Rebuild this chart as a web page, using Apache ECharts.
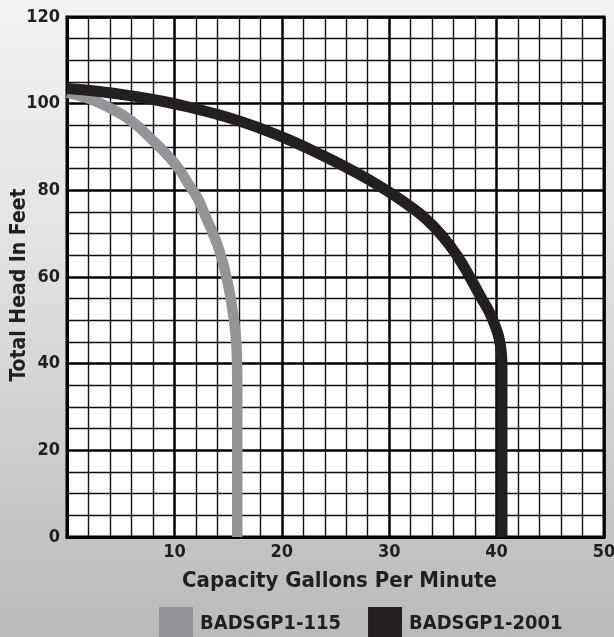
<!DOCTYPE html>
<html>
<head>
<meta charset="utf-8">
<script src="https://cdn.jsdelivr.net/npm/echarts@6/dist/echarts.min.js"></script>
<style>
html,body{margin:0;padding:0;}
#c{width:614px;height:637px;background:linear-gradient(180deg,#f3f3f3 0%,#e2e2e3 40%,#c9cacb 75%,#b9babc 100%);}
</style>
</head>
<body>
<div id="c"></div>
<script>
// Pump curves: capacity (GPM) vs total head (ft)
const seriesNames = ['BADSGP1-115', 'BADSGP1-2001'];
const gpm115  = [0, 2, 4, 6, 8, 9.2, 10.4, 11.3, 12.2, 12.9, 13.6, 14.2, 14.7, 15.1, 15.4, 15.65, 15.8, 15.85, 15.85, 15.85, 15.85, 15.85];
const head115 = [102.5, 101.2, 99, 96, 91.5, 88.5, 85, 81.5, 78, 74, 70, 66, 61.5, 57, 52.5, 48, 43, 37, 30, 20, 10, 0];
const gpm2001  = [0, 3, 6, 9, 12, 15, 18, 21, 24, 26, 28, 30, 32, 33.5, 35, 36.3, 37.5, 38.5, 39.3, 39.9, 40.3, 40.5, 40.5, 40.5, 40.5, 40.5];
const head2001 = [103.5, 102.8, 101.8, 100.5, 98.8, 96.8, 94.3, 91.3, 87.8, 85.3, 82.6, 79.6, 76.2, 73.2, 69.3, 65, 60, 55.5, 52, 48.5, 45, 40, 30, 20, 10, 0];
const xTicks = [0, 10, 20, 30, 40, 50];
const yTicks = [0, 20, 40, 60, 80, 100, 120];

const FONT = "'DejaVu Sans Condensed','DejaVu Sans',sans-serif";
const INK = '#231f20';
const zip = (a, b) => a.map((v, i) => [v, b[i]]);
const txt = (size) => ({fontFamily: FONT, fontWeight: 'bold', fontSize: size, color: INK});

const chart = echarts.init(document.getElementById('c'), null, {renderer: 'canvas'});
chart.setOption({
  backgroundColor: 'transparent',
  animation: false,
  grid: {left: 67, right: 10, top: 17, bottom: 100, outerBoundsMode: 'none', containLabel: false,
    show: true, backgroundColor: '#ffffff', borderColor: '#000', borderWidth: 3},
  xAxis: {
    type: 'value', min: xTicks[0], max: xTicks[xTicks.length - 1], interval: 10,
    name: 'Capacity Gallons Per Minute', nameLocation: 'middle', nameGap: 33, nameMoveOverlap: false,
    nameTextStyle: Object.assign(txt(22), {padding: [0, 0, 0, 8]}),
    axisLine: {show: true, lineStyle: {color: '#000', width: 3}},
    axisTick: {show: false},
    axisLabel: Object.assign(txt(18), {margin: 6, formatter: v => (v === 0 ? '' : String(v))}),
    splitLine: {show: true, lineStyle: {color: '#000', width: 2.5}},
    minorTick: {show: false, splitNumber: 5},
    minorSplitLine: {show: true, lineStyle: {color: '#111', width: 1.4}}
  },
  yAxis: {
    type: 'value', min: yTicks[0], max: yTicks[yTicks.length - 1], interval: 20,
    name: 'Total Head In Feet', nameLocation: 'middle', nameGap: 37, nameMoveOverlap: false,
    nameTextStyle: Object.assign(txt(21), {padding: [0, 16, 0, 0]}),
    axisLine: {show: true, lineStyle: {color: '#000', width: 3}},
    axisTick: {show: false},
    axisLabel: Object.assign(txt(18), {margin: 7}),
    splitLine: {show: true, lineStyle: {color: '#000', width: 2.5}},
    minorTick: {show: false, splitNumber: 4},
    minorSplitLine: {show: true, lineStyle: {color: '#111', width: 1.4}}
  },
  legend: {
    left: 159, top: 607, padding: 0, icon: 'rect', itemWidth: 34, itemHeight: 34, itemGap: 27,
    textStyle: Object.assign(txt(20), {padding: [0, 0, 0, 2]}),
    data: seriesNames
  },
  series: [
    {name: seriesNames[0], type: 'line', data: zip(gpm115, head115), smooth: 0.5, showSymbol: false, symbol: 'none',
      itemStyle: {color: '#939598'}, lineStyle: {color: '#939598', width: 10.5, cap: 'butt'}, z: 3},
    {name: seriesNames[1], type: 'line', data: zip(gpm2001, head2001), smooth: 0.5, showSymbol: false, symbol: 'none',
      itemStyle: {color: INK}, lineStyle: {color: INK, width: 11, cap: 'butt'}, z: 4}
  ]
});
</script>
</body>
</html>
